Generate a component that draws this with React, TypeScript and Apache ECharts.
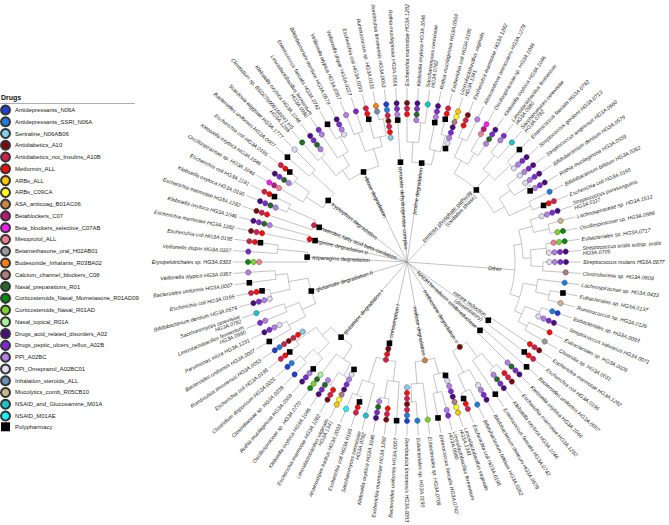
import React, { useEffect, useRef } from "react";
import * as echarts from "echarts";

const drugNames = [
  "Antidepressants_N06A", "Antidepressants_SSRI_N06A", "Sertraline_N06AB06", "Antidiabetics_A10",
  "Antidiabetics_not_Insulins_A10B", "Metformin_ALL", "ARBs_ALL", "ARBs_C09CA", "ASA_anticoag_B01AC06",
  "Betablockers_C07", "Beta_blockers_selective_C07AB", "Metoprolol_ALL", "Betamethasone_oral_H02AB01",
  "Budesonide_Inhalants_R03BA02", "Calcium_channel_blockers_C08", "Nasal_preparations_R01",
  "Corticosteroids_Nasal_Mometasone_R01AD09", "Corticosteroids_Nasal_R01AD", "Nasal_topical_R01A",
  "Drugs_acid_related_disorders_A02", "Drugs_peptic_ulcers_reflux_A02B", "PPI_A02BC", "PPI_Omeprazol_A02BC01",
  "Inhalation_steroids_ALL", "Mucolytics_comb_R05CB10", "NSAID_and_Glucosamine_M01A", "NSAID_M01AE", "Polypharmacy",
];

const drugColors = [
  "#1c3fd8", "#1e7ee0", "#87cbea", "#7a0a0a", "#d81b48", "#ff0a0a", "#ffc800", "#ffff1a", "#cd853f",
  "#c0147c", "#ff19ff", "#f0808e", "#9a9a9a", "#ff7f0e", "#b07c7c", "#1f6b21", "#0a8a0a", "#7ad62a",
  "#a8f0a0", "#4b0a82", "#7a2ad0", "#b47ee8", "#dedcf4", "#6e8fb8", "#cbb78a", "#14c8cc", "#19f5f5", "#000000",
];

// leaves, clockwise from the top (90°)
const leafLabels = [
  "Escherichia marmotae HG3A.1282", "Klebsiella oxytoca HG3A.1046", "Saccharomyces cerevisiae\nHG3A.0782",
  "Rothia mucilaginosa HG3A.0559", "Escherichia coli HG3A.0195", "Limosilactobacillus vaginalis\nHG3A.1341",
  "Escherichia marmotae HG3A.1282", "Alloscardovia omnicolens HG3A.1279", "Oscillospiraceae sp. HG3A.1046",
  "Klebsiella oxytoca HG3A.1046", "Limosilactobacillus fermentum\nHG3A.0980", "Saccharomyces cerevisiae\nHG3A.0782",
  "Enterococcus faecalis HG3A.0742", "Streptococcus gordonii HG3A.0713", "Streptococcus anginosus HG3A.0660",
  "Bifidobacterium dentium HG3A.0579", "Rothia mucilaginosa HG3A.0559", "Bifidobacterium bifidum HG3A.0262",
  "Escherichia coli HG3A.0195", "Streptococcus parasanguinis\nHG3A.0117", "Lachnospiraceae sp. HG3A.1512",
  "Oscillospiraceae sp. HG3A.0986", "Eubacteriales sp. HG3A.0717", "Streptococcus oralis subsp. oralis\nHG3A.0705",
  "Streptococcus mutans HG3A.0677", "Clostridiaceae sp. HG3A.0608", "Lachnospiraceae sp. HG3A.0433",
  "Eubacteriales sp. HG3A.0137", "Ruminococcus sp. HG3A.0126", "Eubacteriales sp. HG3A.0093",
  "Streptococcus salivarius HG3A.0071", "Eubacteriales sp. HG3A.0026", "Clostridia sp. HG3A.0011",
  "Escherichia marmotae HG3A.1282", "Escherichia coli HG3A.0195", "Bacteroides uniformis HG3A.0007",
  "Klebsiella oxytoca HG3A.1046", "Escherichia marmotae HG3A.1282", "Klebsiella oxytoca HG3A.1046",
  "Enterococcus faecalis HG3A.0742", "Bifidobacterium dentium HG3A.0579", "Bifidobacterium bifidum HG3A.0262",
  "Escherichia coli HG3A.0195", "Limosilactobacillus vaginalis\nHG3A.1341", "Limosilactobacillus fermentum\nHG3A.0980",
  "Enterococcus faecalis HG3A.0742", "Eubacteriales sp. HG3A.0709", "Eubacteriales sp. HG3A.0190",
  "Romboutsia timonensis HG3A.0053", "Bacteroides uniformis HG3A.0007", "Escherichia marmotae HG3A.1282",
  "Klebsiella oxytoca HG3A.1046", "Saccharomyces cerevisiae\nHG3A.0782", "Escherichia coli HG3A.0195",
  "Anaerostipes hadrus HG3A.0003", "Limosilactobacillus vaginalis\nHG3A.1341", "Escherichia marmotae HG3A.1282",
  "Klebsiella oxytoca HG3A.1046", "Oscillospiraceae sp. HG3A.0770", "Rothia mucilaginosa HG3A.0559",
  "Clostridiaceae sp. HG3A.0238", "Clostridium disporicum HG3A.0225", "Escherichia coli HG3A.0195",
  "Romboutsia timonensis HG3A.0053", "Bacteroides uniformis HG3A.0007", "Parvimonas micra HG3A.1231",
  "Limosilactobacillus fermentum\nHG3A.0980", "Saccharomyces cerevisiae\nHG3A.0782", "Bifidobacterium dentium HG3A.0579",
  "Escherichia coli HG3A.0195", "Bacteroides uniformis HG3A.0007", "Veillonella atypica HG3A.0357",
  "Erysipelotrichales sp. HG3A.0303", "Veillonella dispar HG3A.0227", "Escherichia coli HG3A.0195",
  "Escherichia marmotae HG3A.1282", "Klebsiella oxytoca HG3A.1046", "Escherichia marmotae HG3A.1282",
  "Klebsiella oxytoca HG3A.0195", "Escherichia coli HG3A.1181", "Oscillospiraceae sp. HG3A.1046",
  "Klebsiella oxytoca HG3A.1046", "Escherichia coli HG3A.0195", "Bacteroides uniformis HG3A.0007",
  "Scardovia wiggsiae HG3A.1777", "Clostridium sp. BSD2780061688st1 H5\nHG3A.1286", "Klebsiella oxytoca HG3A.1046",
  "Limosilactobacillus fermentum\nHG3A.0980", "Enterococcus faecalis HG3A.0742", "Bifidobacterium dentium HG3A.0579",
  "Veillonella atypica HG3A.0357", "Veillonella dispar HG3A.0227", "Escherichia coli HG3A.0195",
  "Ruminococcus sp. HG3A.0131", "Romboutsia timonensis HG3A.0053", "Rothia mucilaginosa HG3A.0559",
];

// drug marks per leaf, inner -> outer (indices into drugNames)
const leafMarks: number[][] = [
  [5, 4, 3], [21, 15, 20, 19], [25], [27, 21, 20, 19], [27, 5, 4], [27, 22, 21, 20, 19, 14, 7, 6],
  [5, 4, 3], [21], [11, 9, 10], [21, 15, 20, 19], [21, 20], [25],
  [27], [22, 21, 20, 19], [22, 21, 20, 19], [22, 21, 20, 19], [27, 21, 20, 19], [1],
  [27, 5, 4], [22, 21, 20, 19], [24], [17, 16], [11, 17, 16], [22, 21, 20, 19],
  [22, 21, 20, 19], [14], [1], [27], [24], [1, 0],
  [22, 21, 20, 19], [5], [12], [5, 4, 3], [27, 5, 4], [27],
  [21, 15, 20, 19], [5, 4, 3], [21, 15, 20, 19], [27], [22, 21, 20, 19], [1],
  [27, 5, 4], [27, 22, 21, 20, 19, 14, 7, 6], [21, 20], [27], [17], [1],
  [2, 5, 4, 3, 4, 1, 0], [27], [5, 4, 3], [21, 15, 20, 19], [25], [27, 5, 4],
  [26], [27, 22, 21, 20, 19, 14, 7, 6], [5, 4, 3], [21, 15, 20, 19], [18, 15, 17, 16], [27, 21, 20, 19],
  [0], [1, 0], [27, 5, 4], [2, 5, 4, 3, 4, 1, 0], [27], [22, 21, 20, 19],
  [21, 20], [25], [22, 21, 20, 19], [27, 5, 4], [27], [21],
  [11, 17, 16], [20], [27, 5, 4], [5, 4, 3], [21, 15, 20, 19], [5, 4, 3],
  [21, 15, 20, 19], [27, 5, 4], [11, 9, 10], [21, 15, 20, 19], [27, 5, 4], [27],
  [22], [15], [21, 15, 20, 19], [21, 20], [27], [22, 21, 20, 19],
  [21], [20], [27, 5, 4], [23, 13], [2, 5, 4, 3, 4, 1, 0], [27, 21, 20, 19],
];

const pathwayNames = [
  "proline degradation", "pentose phosphate pathway\n(oxidative phase)", "Other",
  "nitrate reduction\n(dissimilatory)", "NADH:ferredoxin oxidoreductase", "methionine degradation II",
  "maltose degradation", "lactate consumption I", "glutamine degradation I", "glutamate degradation II",
  "asparagine degradation", "arginine degradation II", "anaerobic fatty acid beta-oxidation",
  "tryptophan degradation", "ribose degradation", "pyruvate dehydrogenase complex",
];
const pathwayFirst = [0, 6, 19, 33, 35, 37, 43, 49, 55, 64, 72, 75, 77, 80, 85, 95];
const pathwayLast = [5, 18, 32, 34, 36, 42, 48, 54, 63, 71, 74, 76, 79, 84, 94, 95];
const pathwayDepth = [100, 100, 108, 100, 100, 100, 100, 100, 100, 100, 100, 100, 100, 100, 100, 100];
const pathwayMarks: number[][] = [
  [27], [27], [], [27], [27], [3], [8], [27, 3, 5, 4], [27], [27], [27], [27, 5], [27, 4], [27], [27], [27],
];

// sub-clades: [first leaf, last leaf, depth]
const clades: number[][] = [
  [0, 2, 120], [1, 2, 140], [3, 5, 115], [4, 5, 132],
  [6, 9, 115], [6, 7, 135], [8, 9, 128], [10, 13, 120], [10, 11, 138], [12, 13, 142],
  [14, 18, 112], [14, 16, 126], [15, 16, 145], [17, 18, 136],
  [19, 25, 116], [19, 21, 130], [20, 21, 146], [22, 25, 124], [22, 23, 140], [24, 25, 136],
  [26, 32, 118], [26, 28, 132], [27, 28, 146], [29, 32, 126], [29, 30, 142], [31, 32, 136],
  [37, 39, 118], [37, 38, 136], [40, 42, 124], [41, 42, 142],
  [43, 45, 116], [44, 45, 134], [46, 48, 122], [47, 48, 140],
  [49, 51, 120], [50, 51, 138], [52, 54, 126], [53, 54, 142],
  [55, 58, 116], [55, 57, 130], [56, 57, 145], [59, 63, 112], [59, 61, 128], [60, 61, 142], [62, 63, 136],
  [64, 67, 115], [64, 65, 134], [66, 67, 130], [68, 71, 120], [68, 69, 140], [70, 71, 132],
  [73, 74, 130], [78, 79, 130],
  [80, 82, 120], [81, 82, 138], [83, 84, 130],
  [85, 89, 112], [85, 86, 135], [87, 89, 125], [88, 89, 142], [90, 94, 118], [90, 91, 138], [92, 94, 128], [93, 94, 145],
];

const START = 90;
const STEP = 360 / leafLabels.length;
const LEAF_DOT_R = 159;
const DOT_STEP = 5.6;
const LINE_END = 174;
const LABEL_R = 176;
const LINE_COLOR = "#9a9a9a";
const FONT = "Liberation Sans, Arial, Helvetica, sans-serif";

const norm = (a: number) => ((a % 360) + 360) % 360;

type TNode = { a: number; r: number; parent: number; children: number[]; first: number; last: number };

function buildTree() {
  const nodes: TNode[] = [];
  leafLabels.forEach((_, i) => nodes.push({ a: START - i * STEP, r: LINE_END, parent: -1, children: [], first: i, last: i }));
  const cladeBase = nodes.length;
  clades.forEach(([f, l, r]) => nodes.push({ a: 0, r, parent: -1, children: [], first: f, last: l }));
  const pathBase = nodes.length;
  pathwayNames.forEach((_, p) =>
    nodes.push({ a: 0, r: pathwayDepth[p], parent: -1, children: [], first: pathwayFirst[p], last: pathwayLast[p] })
  );
  const root = nodes.length;
  nodes.push({ a: 0, r: 0, parent: -1, children: [], first: 0, last: leafLabels.length - 1 });

  for (let id = 0; id < pathBase; id++) {
    const n = nodes[id];
    let best = -1;
    for (let c = cladeBase; c < pathBase; c++) {
      if (c === id) continue;
      const m = nodes[c];
      if (m.first <= n.first && n.last <= m.last && m.r < n.r) {
        if (best < 0 || m.r > nodes[best].r) best = c;
      }
    }
    if (best < 0) {
      for (let p = 0; p < pathwayNames.length; p++) {
        if (pathwayFirst[p] <= n.first && n.last <= pathwayLast[p]) best = pathBase + p;
      }
    }
    n.parent = best;
  }
  for (let p = 0; p < pathwayNames.length; p++) nodes[pathBase + p].parent = root;
  nodes.forEach((n, id) => {
    if (n.parent >= 0) nodes[n.parent].children.push(id);
  });
  const order = nodes
    .map((n, id) => ({ n, id }))
    .filter((o) => o.id >= cladeBase && o.id < pathBase)
    .sort((x, y) => x.n.last - x.n.first - (y.n.last - y.n.first))
    .map((o) => o.id);
  for (let p = 0; p < pathwayNames.length; p++) order.push(pathBase + p);
  order.forEach((id) => {
    const n = nodes[id];
    n.a = n.children.reduce((s, c) => s + nodes[c].a, 0) / n.children.length;
  });
  const branches = [] as { a: number; r0: number; r1: number; arc: boolean; a0: number; a1: number }[];
  for (let id = 0; id < root; id++) {
    const n = nodes[id];
    const ca = n.children.map((c) => nodes[c].a);
    branches.push({
      a: n.a,
      r0: nodes[n.parent].r,
      r1: n.r,
      arc: ca.length > 1,
      a0: ca.length ? Math.min(...ca) : 0,
      a1: ca.length ? Math.max(...ca) : 0,
    });
  }
  return { nodes, branches, pathBase };
}

export default function App() {
  const ref = useRef<HTMLDivElement>(null);
  useEffect(() => {
    document.body.style.margin = "0";
    if (!ref.current) return;
    const chart = echarts.init(ref.current, undefined, { renderer: "svg" });
    const { nodes, branches, pathBase } = buildTree();

    const drugData: number[][][] = drugNames.map(() => []);
    leafMarks.forEach((marks, i) => {
      const a = norm(START - i * STEP);
      marks.forEach((d, k) => drugData[d].push([LEAF_DOT_R - (marks.length - 1 - k) * DOT_STEP, a]));
    });
    pathwayMarks.forEach((marks, p) => {
      const a = norm(nodes[pathBase + p].a);
      marks.forEach((d, k) => drugData[d].push([pathwayDepth[p] - (marks.length - 1 - k) * DOT_STEP, a]));
    });

    const rotFor = (a: number) => {
      const left = a > 90 && a < 270;
      const deg = left ? a - 180 : a > 270 ? a - 360 : a;
      return { left, rot: (deg * Math.PI) / 180 };
    };

    const treeSeries = {
      type: "custom",
      coordinateSystem: "polar",
      silent: true,
      z: 1,
      data: branches.map((b, i) => [b.r1, norm(b.a), i]),
      renderItem: (params: any, api: any) => {
        const b = branches[params.dataIndex];
        const p0 = api.coord([b.r0, norm(b.a)]);
        const p1 = api.coord([b.r1, norm(b.a)]);
        const children: any[] = [
          {
            type: "line",
            shape: { x1: p0[0], y1: p0[1], x2: p1[0], y2: p1[1] },
            style: { stroke: LINE_COLOR, lineWidth: 0.6 },
          },
        ];
        if (b.arc) {
          const n = Math.max(2, Math.ceil((b.a1 - b.a0) / 0.5) + 1);
          const pts: number[][] = [];
          for (let k = 0; k < n; k++) pts.push(api.coord([b.r1, norm(b.a0 + ((b.a1 - b.a0) * k) / (n - 1))]));
          children.push({
            type: "polyline",
            shape: { points: pts },
            style: { stroke: LINE_COLOR, lineWidth: 0.6, fill: "none" },
          });
        }
        return { type: "group", children };
      },
    };

    const leafLabelSeries = {
      type: "custom",
      coordinateSystem: "polar",
      silent: true,
      z: 2,
      data: leafLabels.map((_, i) => [LABEL_R, norm(START - i * STEP), i]),
      renderItem: (params: any, api: any) => {
        const i = params.dataIndex;
        const a = norm(START - i * STEP);
        const p = api.coord([LABEL_R, a]);
        const { left, rot } = rotFor(a);
        return {
          type: "text",
          x: p[0],
          y: p[1],
          rotation: rot,
          style: {
            text: leafLabels[i],
            fontSize: 5.3,
            fontStyle: "italic",
            fontFamily: FONT,
            fill: "#222",
            align: left ? "right" : "left",
            textAlign: left ? "right" : "left",
            verticalAlign: "middle",
            textVerticalAlign: "middle",
          },
        };
      },
    };

    const pathLabelSeries = {
      type: "custom",
      coordinateSystem: "polar",
      silent: true,
      z: 2,
      data: pathwayNames.map((_, p) => [Math.min(pathwayDepth[p], 100) - 5, norm(nodes[pathBase + p].a), p]),
      renderItem: (params: any, api: any) => {
        const p = params.dataIndex;
        const a = norm(nodes[pathBase + p].a);
        const pt = api.coord([Math.min(pathwayDepth[p], 100) - 5, a]);
        const { left, rot } = rotFor(a);
        return {
          type: "text",
          x: pt[0],
          y: pt[1],
          rotation: rot,
          style: {
            text: pathwayNames[p],
            fontSize: 5.5,
            fontFamily: FONT,
            fill: "#222",
            align: left ? "left" : "right",
            textAlign: left ? "left" : "right",
            verticalAlign: "middle",
            textVerticalAlign: "middle",
          },
        };
      },
    };

    const dotSeries = drugNames.map((name, d) => ({
      type: "scatter",
      name,
      coordinateSystem: "polar",
      silent: true,
      z: 5,
      data: drugData[d],
      symbol: d === 27 ? "rect" : "circle",
      symbolSize: d === 27 ? 5.6 : 5.4,
      itemStyle: {
        color: drugColors[d],
        borderColor: d === 27 ? "#000" : "#333",
        borderWidth: d === 27 ? 0 : 0.4,
        opacity: 1,
      },
    }));

    chart.setOption({
      animation: false,
      backgroundColor: "#ffffff",
      title: {
        text: "Drugs",
        left: 1,
        top: 93.5,
        padding: 0,
        textStyle: { fontSize: 7, fontWeight: "bold", color: "#111", fontFamily: FONT },
      },
      graphic: [
        { type: "line", shape: { x1: 0, y1: 103.5, x2: 135, y2: 103.5 }, style: { stroke: "#8a8a8a", lineWidth: 0.7 } },
      ],
      legend: {
        orient: "vertical",
        left: 0,
        top: 104.5,
        padding: 0,
        itemWidth: 9,
        itemHeight: 9,
        itemGap: 0.77,
        selectedMode: false,
        textStyle: { fontSize: 5.9, color: "#1a1a1a", fontFamily: FONT },
        data: drugNames.map((n, i) => ({ name: n, icon: i === 27 ? "rect" : "circle" })),
      },
      polar: { center: [407, 262], radius: 260 },
      angleAxis: { type: "value", min: 0, max: 360, startAngle: 0, clockwise: false, show: false },
      radiusAxis: { type: "value", min: 0, max: 260, show: false },
      series: [treeSeries, leafLabelSeries, pathLabelSeries, ...dotSeries],
    });
    return () => chart.dispose();
  }, []);
  return <div ref={ref} style={{ width: 669, height: 525 }} />;
}
